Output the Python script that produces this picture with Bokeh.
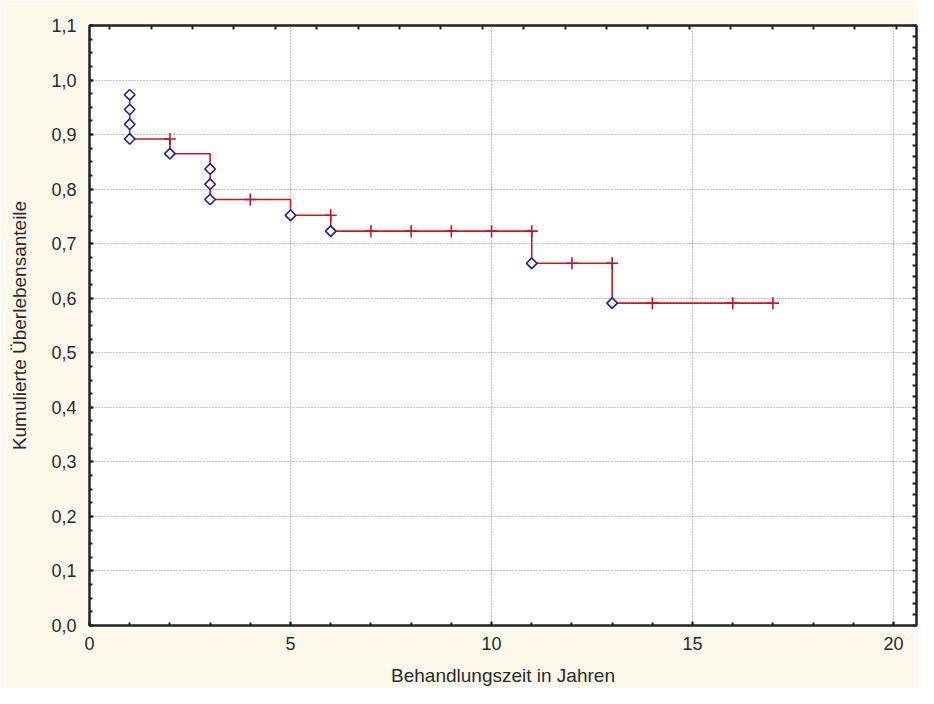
import numpy as np
from bokeh.plotting import figure
from bokeh.models import LinearAxis, FixedTicker, Range1d
from bokeh.embed import file_html
from bokeh.resources import INLINE

# --- data (Kaplan-Meier estimate) ---
event_time = [1, 1, 1, 1, 2, 3, 3, 3, 5, 6, 11, 13]
event_surv = [0.973, 0.946, 0.919, 0.892, 0.865, 0.837, 0.809, 0.781, 0.752, 0.723, 0.664, 0.591]
censor_time = [2, 4, 6, 7, 8, 9, 10, 11, 12, 13, 14, 16, 17]
censor_surv = [0.892, 0.781, 0.752, 0.723, 0.723, 0.723, 0.723, 0.723, 0.664, 0.664, 0.591, 0.591, 0.591]

x_ticks = [0, 5, 10, 15, 20]
x_tick_labels = ["0", "5", "10", "15", "20"]
y_ticks = [0.0, 0.1, 0.2, 0.3, 0.4, 0.5, 0.6, 0.7, 0.8, 0.9, 1.0, 1.1]
y_tick_labels = ["0,0", "0,1", "0,2", "0,3", "0,4", "0,5", "0,6", "0,7", "0,8", "0,9", "1,0", "1,1"]

x_label = "Behandlungszeit in Jahren"
y_label = "Kumulierte Überlebensanteile"

# combined step path: sorted by time ascending, survival descending
pts = sorted(list(zip(event_time, event_surv)) + list(zip(censor_time, censor_surv)),
             key=lambda t: (t[0], -t[1]))
path_t = [q[0] for q in pts]
path_s = [q[1] for q in pts]

BG = "#FDF8EC"
FONT = "Liberation Sans"
TXT = "#2a2a2a"
FS_TICK = "18px"
FS_TITLE = "19px"

p = figure(width=918, height=688, output_backend="svg", toolbar_location=None,
           x_range=Range1d(0, 20.57), y_range=Range1d(0, 1.1),
           min_border_left=89, min_border_right=2, min_border_top=25, min_border_bottom=60)
p.border_fill_color = BG
p.background_fill_color = "white"
p.outline_line_color = "#222222"
p.outline_line_width = 2

# axes
p.xaxis.ticker = FixedTicker(ticks=x_ticks, minor_ticks=list(range(0, 21)))
p.xaxis.major_label_overrides = {t: l for t, l in zip(x_ticks, x_tick_labels)}
p.yaxis.ticker = FixedTicker(ticks=y_ticks, minor_ticks=[round(i * 0.025, 3) for i in range(45)])
p.yaxis.major_label_overrides = {t: l for t, l in zip(y_ticks, y_tick_labels)}

for ax in [p.xaxis[0], p.yaxis[0]]:
    ax.axis_line_color = "#222222"
    ax.axis_line_width = 2
    ax.major_tick_in = 4
    ax.major_tick_out = 0
    ax.minor_tick_in = 3
    ax.minor_tick_out = 0
    ax.major_tick_line_color = "#222222"
    ax.minor_tick_line_color = "#222222"
    ax.major_tick_line_width = 2
    ax.minor_tick_line_width = 2
    ax.major_label_text_font = FONT
    ax.major_label_text_font_size = FS_TICK
    ax.major_label_text_color = TXT
    ax.axis_label_text_font = FONT
    ax.axis_label_text_font_size = FS_TITLE
    ax.axis_label_text_font_style = "normal"
    ax.axis_label_text_color = TXT

p.xaxis.axis_label = x_label
p.yaxis.axis_label = y_label
p.xaxis.major_label_standoff = 11
p.xaxis.axis_label_standoff = 12
p.yaxis.major_label_standoff = 13
p.yaxis.axis_label_standoff = 18

# mirrored axes (ticks only)
top = LinearAxis(ticker=FixedTicker(ticks=[0.5 + 1.03 * k for k in range(20)], minor_ticks=[]))
right = LinearAxis(ticker=FixedTicker(ticks=[round(i * 0.02, 3) for i in range(56)], minor_ticks=[]))
for ax in [top, right]:
    ax.axis_line_color = "#222222"
    ax.axis_line_width = 2
    ax.major_tick_in = 4
    ax.major_tick_out = 0
    ax.minor_tick_in = 0
    ax.minor_tick_out = 0
    ax.major_tick_line_color = "#222222"
    ax.major_tick_line_width = 2
    ax.major_label_text_font_size = "0px"
    ax.major_label_text_color = None
    ax.major_label_standoff = 0
p.add_layout(top, "above")
p.add_layout(right, "right")

# grid
p.xgrid.ticker = FixedTicker(ticks=x_ticks)
p.ygrid.ticker = FixedTicker(ticks=y_ticks)
for g in [p.xgrid[0], p.ygrid[0]]:
    g.grid_line_color = "#8a8a8a"
    g.grid_line_dash = "1 2"
    g.grid_line_width = 1

# survival curve
p.step(x=path_t, y=path_s, mode="after", line_color="#D41515", line_width=1.6)

# censored marks
p.scatter(x=censor_time, y=censor_surv, marker="cross", size=12,
          line_color="#C8102E", line_width=1.6)

# events
p.scatter(x=event_time, y=event_surv, marker="square", angle=np.pi / 4, size=7.5,
          line_color="#1E1EA0", line_width=1.6, fill_color="white")

open("out.html", "w").write(file_html(p, INLINE))
